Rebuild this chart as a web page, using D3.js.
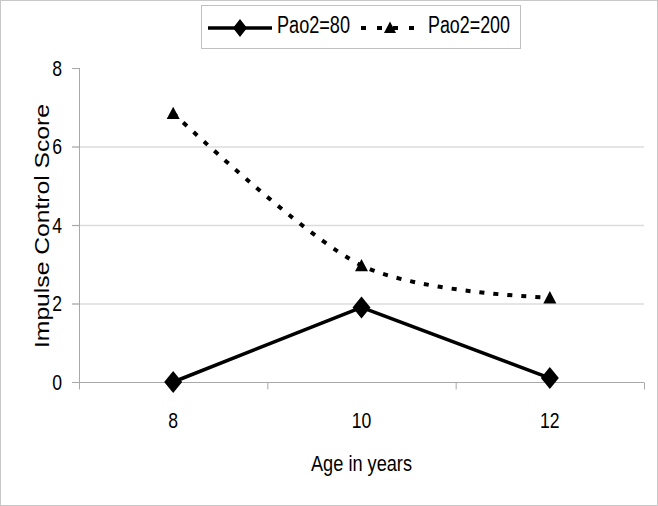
<!DOCTYPE html>
<html><head><meta charset="utf-8">
<script src="https://cdn.jsdelivr.net/npm/d3@7"></script>
<style>body{margin:0;background:#fff}svg{display:block}text{font-family:"Liberation Sans",Arial,sans-serif;fill:#000}</style>
</head><body><svg id="c" width="658" height="506"></svg>
<script>
const ages = ["8", "10", "12"];
const pao80 = [0, 1.9, 0.1];
const pao200 = [6.85, 2.97, 2.15];
const yTicks = [0, 2, 4, 6, 8];
const seriesNames = ["Pao2=80", "Pao2=200"];

(function(){
const svg = d3.select("#c");
svg.append("rect").attr("x",0.5).attr("y",0.5).attr("width",657).attr("height",505).attr("fill","#fff").attr("stroke","#c8c8c8");

const pL = 79, pR = 644, pT = 68, pB = 382;
const x = d3.scaleBand().domain(ages).range([pL, pR]);
const y = d3.scaleLinear().domain([0, 8]).range([pB, pT]);
const cx = d => x(d) + x.bandwidth()/2;
const SX = 0.8;

function label(g, px, py, str, size, anchor, sx) {
  return g.append("text").attr("transform", `translate(${px},${py}) scale(${sx},1)`)
    .attr("text-anchor", anchor).attr("font-size", size).text(str);
}

// gridlines
svg.append("g").selectAll("line").data(yTicks.filter(t => t > 0 && t < 8)).join("line")
  .attr("x1", pL-7).attr("x2", pR).attr("y1", d => y(d)+0.5).attr("y2", d => y(d)+0.5)
  .attr("stroke", "#dcdcdc").attr("stroke-width", 1.5);

// y axis
const ya = svg.append("g");
ya.append("line").attr("x1", pL+0.5).attr("x2", pL+0.5).attr("y1", y(8)).attr("y2", pB+7).attr("stroke", "#a8a8a8");
ya.selectAll("line.tk").data(yTicks).join("line").attr("class","tk")
  .attr("x1", pL-7).attr("x2", pL).attr("y1", d => y(d)+0.5).attr("y2", d => y(d)+0.5).attr("stroke", "#a8a8a8");
yTicks.forEach(t => label(ya, 62, y(t)+7.5, d3.format("d")(t), 22, "end", SX));

// x axis
const xa = svg.append("g").attr("transform", `translate(0,${pB+0.5})`);
xa.append("line").attr("x1", pL-7).attr("x2", pR).attr("stroke", "#a8a8a8");
const bounds = [pL, ...ages.map(a => x(a) + x.bandwidth())];
xa.selectAll("line.tk").data(bounds).join("line").attr("class","tk")
  .attr("x1", d => d+0.5).attr("x2", d => d+0.5).attr("y1", 0).attr("y2", 7).attr("stroke", "#a8a8a8");
ages.forEach(a => label(xa, cx(a), 45, a, 22, "middle", SX));

// axis titles
svg.append("text").attr("x", 311).attr("y", 471).attr("font-size", 22)
  .attr("textLength", 101).attr("lengthAdjust", "spacingAndGlyphs").text("Age in years");
svg.append("text").attr("transform", "translate(49,348) rotate(-90)").attr("font-size", 21)
  .attr("textLength", 244).attr("lengthAdjust", "spacingAndGlyphs").text("Impulse Control Score");

// lines
const line80 = d3.line().x((d,i) => cx(ages[i])).y(d => y(d));
const line200 = d3.line().x((d,i) => cx(ages[i])).y(d => y(d)).curve(d3.curveCardinal.tension(0.1));
svg.append("path").attr("d", line200(pao200)).attr("fill","none").attr("stroke","#000").attr("stroke-width",4).attr("stroke-dasharray","5,9");
svg.append("path").attr("d", line80(pao80)).attr("fill","none").attr("stroke","#000").attr("stroke-width",3.5);

const diamond = (px, py, w, h) => `M${px},${py-h}L${px+w},${py}L${px},${py+h}L${px-w},${py}Z`;
const tri = (px, py, s) => `M${px},${py-s}L${px+s},${py+s*0.9}L${px-s},${py+s*0.9}Z`;
svg.append("g").selectAll("path").data(pao80).join("path")
  .attr("d", (d,i) => diamond(cx(ages[i]), y(d), 9, 11)).attr("fill","#000");
svg.append("g").selectAll("path").data(pao200).join("path")
  .attr("d", (d,i) => tri(cx(ages[i]), y(d), 6.5)).attr("fill","#000");

// legend
const lg = svg.append("g");
lg.append("rect").attr("x",201.5).attr("y",5.5).attr("width",319).attr("height",43).attr("fill","#fff").attr("stroke","#c0c0c0");
lg.append("line").attr("x1",208).attr("x2",272).attr("y1",28).attr("y2",28).attr("stroke","#000").attr("stroke-width",3.5);
lg.append("path").attr("d", diamond(240,28,7,9)).attr("fill","#000");
lg.append("text").attr("x",277).attr("y",33).attr("font-size",23)
  .attr("textLength",73).attr("lengthAdjust","spacingAndGlyphs").text(seriesNames[0]);
lg.append("line").attr("x1",361).attr("x2",420).attr("y1",28).attr("y2",28).attr("stroke","#000").attr("stroke-width",4).attr("stroke-dasharray","5,11");
lg.append("path").attr("d", tri(390,27.5,6)).attr("fill","#000");
lg.append("text").attr("x",428).attr("y",33).attr("font-size",23)
  .attr("textLength",82).attr("lengthAdjust","spacingAndGlyphs").text(seriesNames[1]);
})();
</script></body></html>
